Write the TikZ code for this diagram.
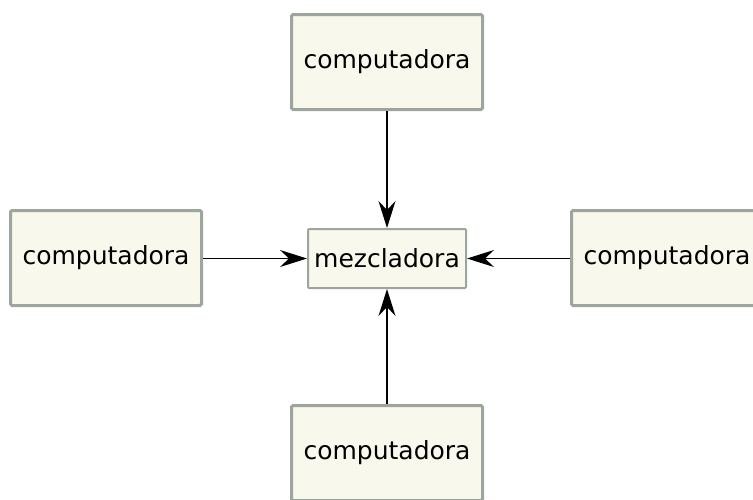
\documentclass[tikz,border=0pt]{standalone}
\usepackage{fontspec}
\setmainfont{DejaVu Sans}
\usetikzlibrary{arrows.meta}
\definecolor{boxfill}{HTML}{F8F8EC}
\definecolor{boxline}{HTML}{9CA69C}
\tikzset{
  pc/.style={draw=boxline, fill=boxfill, line width=3pt, rounded corners=1.5pt,
    minimum width=191pt, minimum height=95pt, inner sep=0pt,
    font=\fontsize{25}{30}\selectfont},
  mixer/.style={draw=boxline, fill=boxfill, line width=2pt, rounded corners=1pt,
    minimum width=158pt, minimum height=59pt, inner sep=0pt,
    font=\fontsize{25}{30}\selectfont},
  link/.style={line width=1.3pt, -{Stealth[length=27pt, width=17pt, inset=9pt]}}
}
\begin{document}
\begin{tikzpicture}[x=1pt, y=-1pt]
  \useasboundingbox (0,0) rectangle (753,499);
  \node[mixer] (mix) at (387,258.5) {mezcladora};
  \node[pc] (top) at (387,62) {computadora};
  \node[pc] (left) at (106,258) {computadora};
  \node[pc] (right) at (667,258) {computadora};
  \node[pc] (bottom) at (387,453) {computadora};
  \draw[link] (top) -- (mix);
  \draw[link] (left.east |- mix) -- (mix.west);
  \draw[link] (right.west |- mix) -- (mix.east);
  \draw[link] (bottom) -- (mix);
\end{tikzpicture}
\end{document}
